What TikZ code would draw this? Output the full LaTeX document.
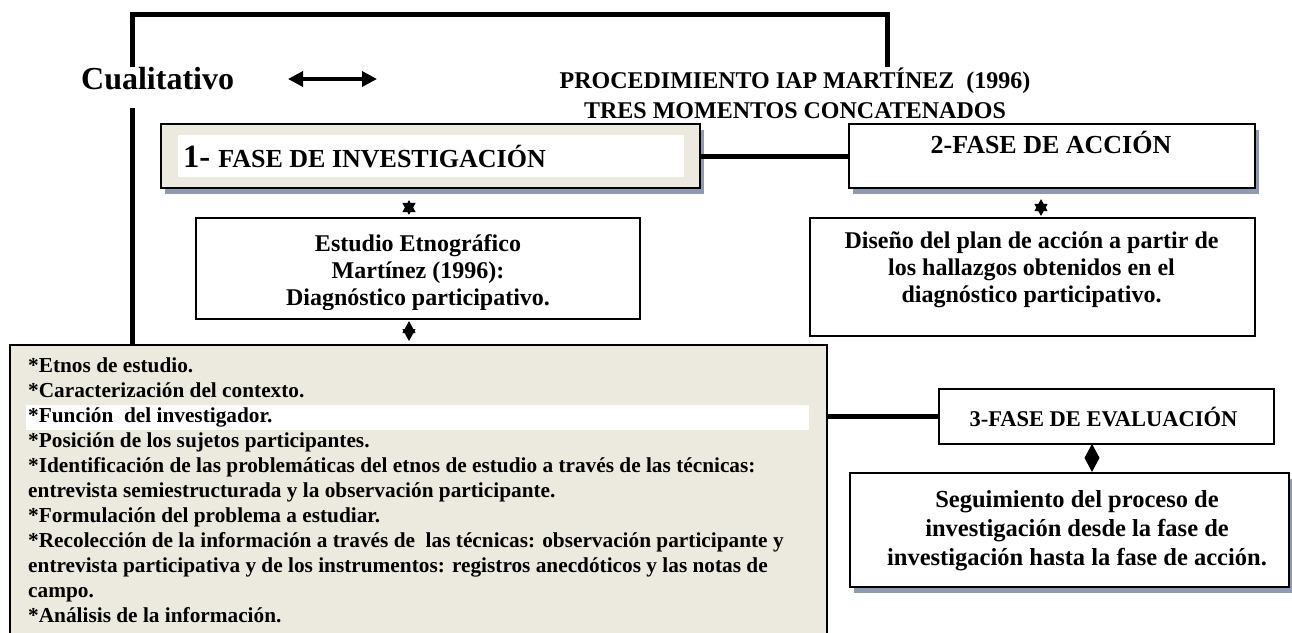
\documentclass[tikz,border=0pt]{standalone}
\usepackage{fontspec}
\setmainfont{Liberation Serif}
\usetikzlibrary{arrows.meta,shadows}
\definecolor{beige}{RGB}{236,233,223}
\definecolor{shc}{RGB}{141,155,178}
\begin{document}
\begin{tikzpicture}[x=1pt,y=-1pt,
  bx/.style={draw=black,line width=2.2pt,rectangle,inner sep=0pt},
  shd/.style={drop shadow={shadow xshift=4pt,shadow yshift=-6pt,fill=shc,opacity=1}},
  thk/.style={line width=5pt},
  dstar/.style={line width=1.2pt,{Triangle[length=12pt,width=13pt]}-{Triangle[length=12pt,width=13pt]}},
  txt/.style={inner sep=0pt},
]
\useasboundingbox (0,0) rectangle (1292,632);
\fill[white] (0,0) rectangle (1292,632);

% bracket and title
\coordinate (bl) at (132,67);
\coordinate (tl) at (132,14.5);
\coordinate (tr) at (887,14.5);
\coordinate (br) at (887,67);
\draw[thk] (bl) -- (tl) -- (tr) -- (br);

\node[txt,anchor=base west,font=\bfseries\fontsize{32}{36}\selectfont] (cual) at (81,89) {Cualitativo};
\coordinate (da1) at (288,79);
\coordinate (da2) at (377,79);
\draw[line width=3.5pt,{Triangle[length=15pt,width=15pt]}-{Triangle[length=15pt,width=15pt]}] (da1) -- (da2);

\node[txt,anchor=base,font=\bfseries\fontsize{24}{27}\selectfont] (t1) at (795,88) {PROCEDIMIENTO IAP MARTÍNEZ\ \ (1996)};
\node[txt,anchor=base,font=\bfseries\fontsize{24}{27}\selectfont] (t2) at (795,118) {TRES MOMENTOS CONCATENADOS};

% phase 1
\node[bx,shd,fill=beige,minimum width=539pt,minimum height=64pt] (f1) at (430.5,156) {};
\node[txt,fill=white,minimum width=506pt,minimum height=42pt] (f1in) at (431,156) {};
\node[txt,anchor=base west,font=\bfseries\fontsize{26}{30}\selectfont] (f1t) at (183,167) {{\fontsize{32.5}{36}\selectfont 1- }FASE DE INVESTIGACIÓN};

% phase 2
\node[bx,shd,fill=white,minimum width=406pt,minimum height=64pt] (f2) at (1052,156) {};
\node[txt,anchor=base,font=\bfseries\fontsize{26}{30}\selectfont] (f2t) at (1051,153) {2-FASE DE ACCIÓN};

\draw[thk] (f1.east) -- (f2.west);

% estudio
\node[bx,fill=white,minimum width=444pt,minimum height=101pt] (es) at (418,268.5) {};
\begin{scope}
\clip (196,218) rectangle (640,309.5);
\node[txt,align=center,font=\bfseries\fontsize{24}{27}\selectfont] (est) at (418,272.3) {Estudio Etnográfico\\Martínez (1996):\\Diagnóstico participativo.};
\end{scope}

% diseno
\node[bx,fill=white,minimum width=445pt,minimum height=118pt] (di) at (1032.5,277) {};
\node[txt,align=center,font=\bfseries\fontsize{24}{27}\selectfont] (dit) at (1031.5,270) {Diseño del plan de acción a partir de\\los hallazgos obtenidos en el\\diagnóstico participativo.};

% big box
\coordinate (lv) at (132,108);
\node[bx,fill=beige,minimum width=817pt,minimum height=300pt,anchor=north west] (big) at (9,344) {};
\draw[thk] (lv) -- (lv |- big.north);
\node[txt,fill=white,minimum width=783pt,minimum height=25pt,anchor=north west] (stripe) at (26,405) {};
\node[txt,anchor=north west,align=left,font=\bfseries\fontsize{21.3}{25}\selectfont] (bigt) at (28,357.6) {*Etnos de estudio.\\
*Caracterización del contexto.\\
*Función\ \ del investigador.\\
*Posición de los sujetos participantes.\\
*Identificación de las problemáticas del etnos de estudio a través de las técnicas:\\
entrevista semiestructurada y la observación participante.\\
*Formulación del problema a estudiar.\\
*Recolección de la información a través de\ \ las técnicas: observación participante y\\
entrevista participativa y de los instrumentos: registros anecdóticos y las notas de\\
campo.\\
*Análisis de la información.};

% phase 3
\node[bx,fill=white,minimum width=335pt,minimum height=55pt] (ev) at (1106.5,416.5) {};
\node[txt,anchor=base,font=\bfseries\fontsize{22.5}{26}\selectfont] (evt) at (1103.5,426) {3-FASE DE EVALUACIÓN};
\draw[thk] (big.east |- ev.west) -- (ev.west);

\node[bx,shd,fill=white,minimum width=439pt,minimum height=114pt] (sg) at (1069.5,530) {};
\node[txt,align=center,font=\bfseries\fontsize{24.5}{29}\selectfont] (sgt) at (1077,530.5) {Seguimiento del proceso de\\investigación desde la fase de\\investigación hasta la fase de acción.};

% small connectors
\coordinate (cx1) at (409,0);
\coordinate (cx2) at (1041,0);
\coordinate (cx3) at (1092,0);
\draw[dstar,shorten <=11pt,shorten >=2pt] (f1.south -| cx1) -- (es.north -| cx1);
\draw[dstar,shorten <=1pt,shorten >=3pt] (es.south -| cx1) -- (big.north -| cx1);
\draw[dstar,shorten <=10pt,shorten >=1pt] (f2.south -| cx2) -- (di.north -| cx2);
\draw[line width=1pt,-{Diamond[length=28pt,width=15pt]}] (ev.south -| cx3) -- (sg.north -| cx3);
\end{tikzpicture}
\end{document}
